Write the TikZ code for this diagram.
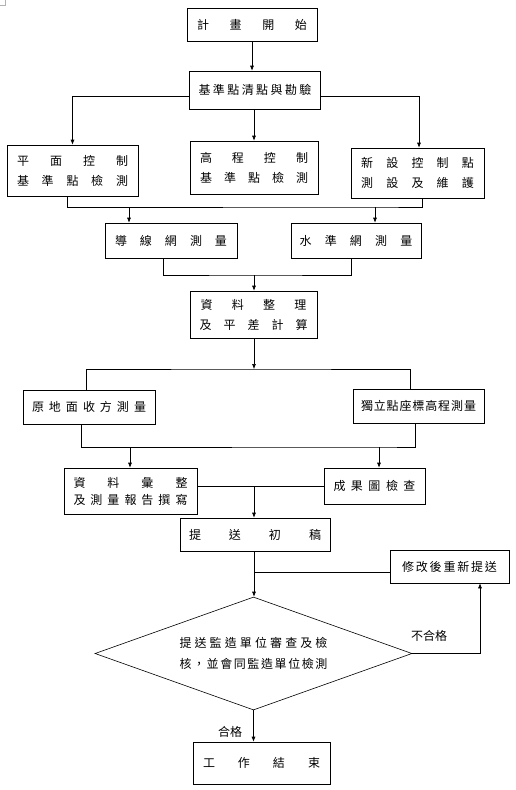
\documentclass[tikz,border=0pt]{standalone}
\usepackage{fontspec}
\usepackage{tikz}
\usetikzlibrary{positioning,shapes.geometric,arrows.meta}
\newfontfamily\cjkfont{Noto Sans CJK TC}
% spread the characters of a line over a given width
\def\spreadA#1#2{#1\ifx#2\relax\else\hfill\expandafter\spreadA\expandafter#2\fi}
\newcommand{\spreadline}[2]{\makebox[#1pt][s]{\spreadA#2\relax}}
\tikzset{
  box/.style={draw, rectangle, line width=0.6pt, inner sep=0pt, align=center,
    font=\cjkfont\fontsize{12}{20}\selectfont},
  decision/.style={draw, diamond, line width=0.6pt, inner sep=0pt, align=center,
    shape aspect=2.8, font=\cjkfont\fontsize{12}{21}\selectfont},
  link/.style={line width=0.6pt},
  arr/.style={link, -{Latex[length=5pt,width=4pt]}},
  tag/.style={font=\cjkfont\fontsize{12}{14}\selectfont},
}

\begin{document}
\begin{tikzpicture}[x=1pt,y=-1pt]
  \useasboundingbox (0,0) rectangle (516,790);
  % page corner mark
  \draw[gray!60, line width=0.4pt] (0,5) -- (5,5) -- (5,0);

  % first rows
  \node[box, minimum width=130pt, minimum height=33pt] (start) at (252,24.5) {\spreadline{110}{計畫開始}};
  \node[box, minimum width=131pt, minimum height=38pt] (check) at (255,90) {\spreadline{113}{基準點清點與勘驗}};
  \node[box, minimum width=131pt, minimum height=51pt] (plane) at (72.5,170.5)
    {\spreadline{111}{平面控制}\\ \spreadline{111}{基準點檢測}};
  \node[box, minimum width=128pt, minimum height=53pt] (height) at (254,167.5)
    {\spreadline{108}{高程控制}\\ \spreadline{108}{基準點檢測}};
  \node[box, minimum width=133pt, minimum height=50pt] (newpt) at (417.5,173)
    {\spreadline{113}{新設控制點}\\ \spreadline{113}{測設及維護}};
  \node[box, minimum width=132pt, minimum height=35pt] (trav) at (171,240.5) {\spreadline{112}{導線網測量}};
  \node[box, minimum width=130pt, minimum height=35pt] (level) at (356,240.5) {\spreadline{113}{水準網測量}};
  \node[box, minimum width=127pt, minimum height=47pt] (adjust) at (253.5,314.5)
    {\spreadline{106}{資料整理}\\ \spreadline{108}{及平差計算}};

  % field work and report
  \node[box, minimum width=132pt, minimum height=34pt] (ground) at (89,407) {\spreadline{114}{原地面收方測量}};
  \node[box, minimum width=131pt, minimum height=34pt] (indep) at (418.5,406) {\spreadline{115}{獨立點座標高程測量}};
  \node[box, minimum width=133pt, minimum height=46pt] (report) at (130.5,491)
    {\spreadline{114}{資料彙整}\\[-3pt] \spreadline{114}{及測量報告撰寫}};
  \node[box, minimum width=101pt, minimum height=36pt] (mapchk) at (374.5,486) {\spreadline{82}{成果圖檢查}};
  \node[box, minimum width=150pt, minimum height=33pt] (draft) at (255,534.5) {\spreadline{132}{提送初稿}};
  \node[box, minimum width=119pt, minimum height=33pt] (revise) at (449.5,566.5) {\spreadline{95}{修改後重新提送}};
  \node[decision, minimum width=317pt, minimum height=113pt] (review) at (253.5,653.5)
    {\spreadline{148}{提送監造單位審查及檢}\\ \spreadline{148}{核，並會同監造單位檢測}};
  \node[box, minimum width=137pt, minimum height=42pt] (finish) at (261.5,763) {\spreadline{117}{工作結束}};

  % junctions
  \coordinate (j1) at (129,207);
  \coordinate (j2) at (375,207);
  \coordinate (j3) at (254,275);
  \coordinate (j4) at (254,369);
  \coordinate (j5) at (130,447);
  \coordinate (j6) at (379,447);
  \coordinate (j7) at (254,486);
  \coordinate (j8) at (254,572);

  % connectors
  \draw[arr] (start.south) -- (start.south |- check.north);
  \draw[arr] ([yshift=-6pt]check.west) -| (plane.north);
  \draw[arr] ([yshift=-6pt]check.east) -| ([xshift=1.5pt]newpt.north);
  \draw[arr] (height.north |- check.south) -- (height.north);

  \draw[link] ([xshift=-5.5pt]plane.south) |- (j2) -| ([xshift=4.5pt]newpt.south);
  \draw[arr] (j1) -- (j1 |- trav.north);
  \draw[arr] (j2) -- (j2 |- level.north);

  \draw[link] ([xshift=-8pt]trav.south) |- (j3) -| ([xshift=-5pt]level.south);
  \draw[arr] (j3) -- (j3 |- adjust.north);

  \draw[arr] (j4 |- adjust.south) -- (j4);
  \draw[link] ([xshift=-3pt]ground.north) |- (j4) -| ([xshift=-8.5pt]indep.north);

  \draw[link] ([xshift=-8pt]ground.south) |- (j6) -| ([xshift=-3.5pt]indep.south);
  \draw[arr] (j5) -- (j5 |- report.north);
  \draw[arr] (j6) -- (j6 |- mapchk.north);

  \draw[link] (report.east |- j7) -- (j7 -| mapchk.west);
  \draw[arr] (j7) -- (j7 |- draft.north);

  \draw[arr] (j8 |- draft.south) -- (j8 |- review.north);
  \draw[link] (j8) -- (j8 -| revise.west);
  \draw[arr] (review.east) -| ([xshift=30.5pt]revise.south);
  \draw[arr] (review.south) -- (review.south |- finish.north);

  \node[tag] (fail) at (429,636) {不合格};
  \node[tag] (pass) at (230,732) {合格};
\end{tikzpicture}
\end{document}
